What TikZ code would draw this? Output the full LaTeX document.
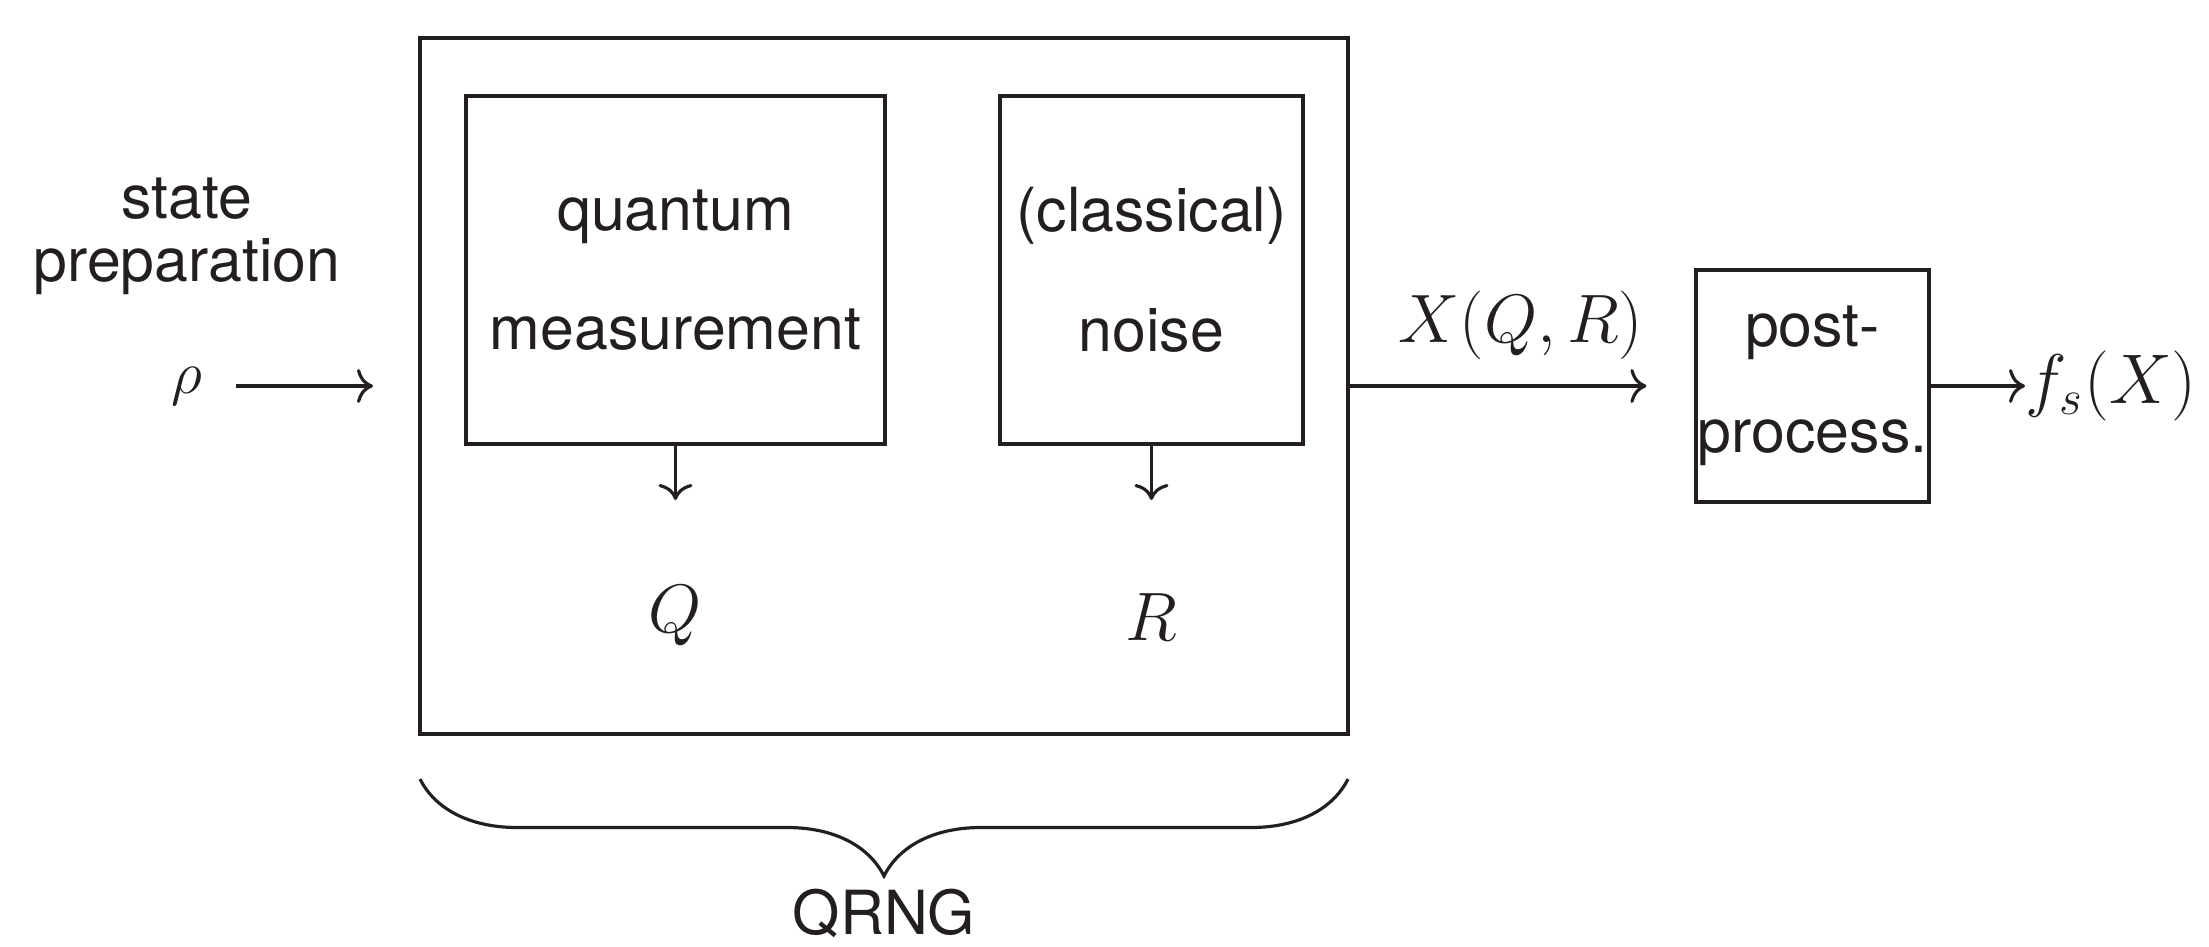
\documentclass[tikz,border=0pt]{standalone}
\usepackage{fix-cm}
\usepackage[no-math]{fontspec}
\setmainfont{TeX Gyre Heros}
\usetikzlibrary{arrows.meta,decorations.pathreplacing}
\definecolor{ink}{HTML}{231F20}
\tikzset{box/.style={draw=ink,line width=0.9pt,minimum height=34.8mm,align=center,inner sep=0pt,text=ink,font=\fontsize{17.3}{34}\selectfont},arrow/.style={-{To[length=1.6mm,width=3.4mm]},draw=ink,line width=0.9pt},lab/.style={inner sep=0pt,text=ink,font=\fontsize{17.3}{18}\selectfont},mlab/.style={inner sep=0pt,text=ink,font=\fontsize{19.5}{20}\selectfont},qbrace/.style={draw=ink,line width=0.9pt,decorate,decoration={brace,mirror,amplitude=9.7mm}}}

\begin{document}
\begin{tikzpicture}
\useasboundingbox (0,0) rectangle (22.09,9.46);
\node[box,minimum width=92.8mm,minimum height=69.6mm] (qrng) at (8.84,5.60) {};
\node[box,minimum width=41.9mm] (qm) at (6.755,6.76) {quantum\\measurement};
\node[box,minimum width=30.3mm] (cn) at (11.515,6.76) {(classical)\\noise};
\node[box,minimum width=23.3mm,minimum height=23.2mm,font=\fontsize{17.3}{30}\selectfont] (pp) at (18.125,5.60) {post-\\process.};
\node[lab,align=center] (sp) at (1.87,7.10) {state\\preparation};
\node[lab,minimum width=9.6mm] (rho) at (1.87,5.60) {$\rho$};
\node[mlab] (q) at (6.755,3.30) {$Q$};
\node[mlab] (r) at (11.515,3.29) {$R$};
\node[mlab] (xqr) at (15.21,6.21) {$X(Q,R)$};
\node[mlab,font=\fontsize{20}{20}\selectfont,anchor=west] (fs) at (20.25,5.60) {$f_s(X)$};
\node[lab] (name) at (8.84,0.33) {QRNG};
\coordinate (rhoend) at (3.73,5.60);
\coordinate (qend) at (6.755,4.46);
\coordinate (rend) at (11.515,4.46);
\coordinate (bl) at (4.20,1.67);
\coordinate (br) at (13.48,1.67);
\draw[arrow](rho)--(rhoend);\draw[arrow](qm)--(qend);\draw[arrow](cn)--(rend);
\draw[arrow,shorten >=4.8mm](qrng)--(pp);\draw[arrow](pp)--(fs);
\draw[qbrace](bl)--(br);
\end{tikzpicture}
\end{document}
